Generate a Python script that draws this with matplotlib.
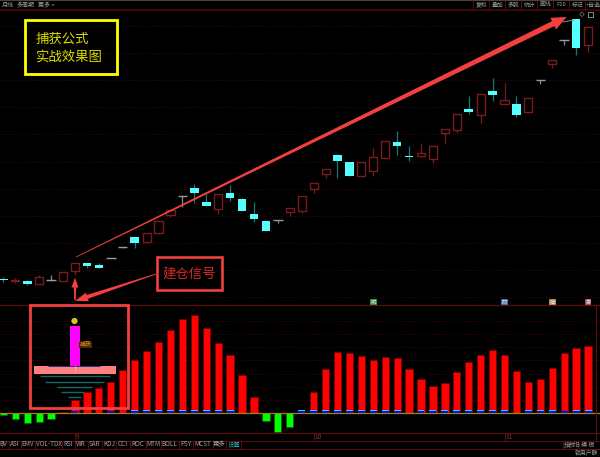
import matplotlib
matplotlib.use('Agg')
import matplotlib.pyplot as plt
from matplotlib.patches import Rectangle, Polygon, Circle
import numpy as np

plt.rcParams['font.family'] = ['Noto Sans CJK SC', 'DejaVu Sans']

# candle values
open_price = [26.5, 24.3, 24, 21.5, 25, 24.3, 34.3, 42.3, 40, 47.5, 58, 68, 63.3, 72.3, 89.7, 109, 116.7, 103.3, 96.3, 111.7,
              106, 91, 83.7, 84.8, 93.3, 94.3, 116.3, 131.3, 150, 143, 128.7, 133.7, 147.3, 163.3, 149.5, 149, 145.7, 172.3, 175, 196,
              189.7, 214, 200.7, 201.3, 193.3, 225.4, 241.3, 265, 285.7, 260.3]
close_price = [25, 25, 21, 28, 25.3, 33, 41.7, 39.3, 37.3, 47, 57.5, 62, 72, 83.7, 95.3, 108.6, 112.3, 98.7, 111, 106.7,
               94, 86, 73.7, 84.3, 96.7, 108.7, 121.7, 135.7, 144, 129.3, 143.3, 147.7, 163.7, 158.7, 148.5, 151.7, 158.7, 175.7, 191, 193.3,
               210.7, 210.3, 204.7, 189.7, 207, 224.8, 244.7, 264.5, 257.3, 277.7]
high_price = [28, 27.5, 25, 30, 30, 33, 41.7, 42.3, 42, 47.5, 58, 68, 72, 83.7, 95.3, 109, 121.3, 111, 111, 120,
              107, 103, 83.7, 84.8, 96.7, 108.7, 121.7, 135.7, 151, 143, 143.3, 157, 163.7, 174, 159, 162, 160, 175.7, 191, 209,
              210.7, 227, 222, 209, 207, 225.4, 244.7, 265, 285.7, 277.7]
low_price = [23, 22, 20, 21.5, 24, 24.3, 30, 37, 37, 47, 57.5, 57, 63.3, 71, 88, 98, 102, 98.7, 91.3, 104.5,
             94, 83, 73.7, 82, 89, 92, 112, 127, 127, 129.3, 128.7, 129, 146, 150, 144, 148, 142, 161.3, 172, 191,
             182, 204, 200.7, 188, 192, 221, 237, 260, 250, 253]

# indicator histogram
macd_vals = [-1.4, -5.7, -10, -8.4, -6, 1, 13.3, 21.6, 25, 31.6, 43.3, 53.3, 62, 71.6, 83.3, 94.3, 98.6, 85, 70, 58.3,
             38.3, 16, -7.7, -18.4, -13.7, 0, 21, 44.3, 61.3, 60.6, 57, 53.3, 56, 55.3, 44.3, 34.3, 27, 30.3, 41, 51.3,
             58.3, 63, 58.3, 42, 31.6, 34, 45, 60, 65.6, 67.3]
blue_flag = [0, 0, 0, 0, 0, 0, 1, 0, 0, 1, 0, 2, 2, 2, 2, 2, 2, 2, 2, 2,
             0, 0, 0, 0, 0, 2, 2, 2, 2, 2, 2, 2, 2, 2, 0, 2, 2, 2, 2, 2,
             2, 2, 2, 0, 2, 2, 2, 1, 2, 2]

tab_labels = ['BV', 'ASI', 'EMV', 'VOL-TDX', 'RSI', 'WR', 'SAR', 'KDJ', 'CCI', 'ROC', 'MTM', 'BOLL', 'PSY', 'MCST', '更多', '设置']
tab_x = [3.5, 14.5, 28, 48.5, 68.5, 81, 95, 109, 123, 138, 153.5, 169.5, 186, 203, 219, 234]
tab_sep = [8.5, 21, 35, 62, 75, 87.5, 102, 116, 130, 146, 160.5, 179, 192.5, 212.5, 226, 241]
tool_labels = ['复权', '叠加', '多股', '统计', '画线', 'F10', '标记', '+自选']
tool_x = [481.3, 497.3, 513.3, 529.3, 545.3, 561.3, 577.3, 593]
badge_labels = ['威', '财', '榜', '券']
badge_idx = [31, 42, 46, 49]
badge_colors = ['#2f8f3a', '#3f6f9f', '#b0855a', '#a84a55']
date_labels = ['9', '10', '11']
date_idx = [6, 26, 42]

DARK_RED = '#7a1c1c'
GRID = '#3c0a0a'
LINE = '#5a0f0f'
CYAN = '#55ffff'
ARROW = '#f23f3f'

fig = plt.figure(figsize=(6, 4.57), dpi=100, facecolor='black')
n = len(open_price)
idx = np.arange(n)
xlim = (-0.285, 50.0)

# candle panel
ax = fig.add_axes([0, 152 / 457, 1, 295 / 457], facecolor='black')
ax.set_xlim(xlim)
ax.set_ylim(0, 295)
ax.axis('off')
for lv in np.arange(8, 295, 27.1):
    ax.axhline(lv, color=GRID, lw=0.7, ls=(0, (1, 2)), zorder=1)
for i in idx:
    o, c, h, l = open_price[i], close_price[i], high_price[i], low_price[i]
    if abs(c - o) <= 1.0 and h - l > 0 and i not in (1, 34):
        col, wick = '#9a9a9a', '#8a8a8a'
    elif c > o:
        col, wick = DARK_RED, DARK_RED
    else:
        col, wick = CYAN, '#127878'
    ax.vlines(i, l, h, color=wick, lw=0.9, zorder=2)
    if col == CYAN:
        ax.bar(i, max(abs(c - o), 0.8), bottom=min(o, c), width=0.72, color=CYAN, lw=0, zorder=3)
    elif col == DARK_RED:
        ax.bar(i, max(abs(c - o), 0.8), bottom=min(o, c), width=0.68, facecolor='black', edgecolor=DARK_RED, lw=1, zorder=3)
    else:
        ax.hlines(max(o, c), i - 0.4, i + 0.4, color=col, lw=1, zorder=3)

# indicator panel
ax2 = fig.add_axes([0, 24 / 457, 1, 128 / 457], facecolor='black')
ax2.set_xlim(xlim)
ax2.set_ylim(-19.7, 108.3)
ax2.axis('off')
for lv in np.arange(13.3, 100, 13.2):
    ax2.axhline(lv, color=GRID, lw=0.7, ls=(0, (1, 2)), zorder=1)
vals = np.array(macd_vals)
ax2.bar(idx, vals, width=0.61, color=['#ff0000' if v > 0 else '#00ff00' for v in vals],
        edgecolor=['#7a0000' if v > 0 else '#006000' for v in vals], lw=0.5, zorder=2)
for i in idx:
    if blue_flag[i] >= 1:
        ax2.bar(i, 2.2, width=0.58, color='#0000ff', lw=0, zorder=3)
    if blue_flag[i] == 2:
        ax2.bar(i, 1.6, bottom=2.2, width=0.58, color='#33ccff', lw=0, zorder=3)
ax2.axhline(0, color='#9a8a10', lw=0.9, zorder=4)

# window chrome and notes, in image pixels
ov = fig.add_axes([0, 0, 1, 1], facecolor='none')
ov.set_xlim(0, 600)
ov.set_ylim(457, 0)
ov.axis('off')
ov.add_patch(Rectangle((0, 0), 600, 1.2, color='#444444', lw=0))
ov.axhline(9.7, color='#4a0808', lw=1.2)
ov.axhline(305.4, color=LINE, lw=0.9)
ov.axhline(433.3, color=LINE, lw=0.9)
ov.axhline(440.5, color=LINE, lw=0.8)
ov.axhline(448.6, color=LINE, lw=0.8)
ov.vlines(595.7, 305, 441, color=LINE, lw=0.8)
ov.text(2, 5, '月线', color='#a0a0a0', fontsize=4.3, va='center')
ov.text(17, 5, '多周期', color='#a0a0a0', fontsize=4.3, va='center')
ov.text(38, 5, '更多 >', color='#a0a0a0', fontsize=4.3, va='center')
for lab, x in zip(tool_labels, tool_x):
    ov.text(x, 5, lab, color='#a0a0a0', fontsize=4.2, ha='center', va='center')
    ov.vlines(x - 8, 0, 9.5, color=LINE, lw=0.7)
ov.add_patch(Polygon([(582, 12), (584.3, 14.3), (582, 16.6), (579.7, 14.3)], fill=False, ec='#666666', lw=0.6))
ov.add_patch(Rectangle((588, 12), 5, 4.6, fill=False, ec='#888888', lw=0.7))
for lab, x in zip(tab_labels, tab_x):
    col = '#2fa8a8' if lab == '设置' else '#a0a0a0'
    ov.text(x, 444.5, lab, color=col, fontsize=4.6, ha='center', va='center')
for x in tab_sep:
    ov.vlines(x, 440.5, 448.6, color=LINE, lw=0.7)
ov.text(563.5, 445, '指标B', color='#a0a0a0', fontsize=4.6, va='center')
ov.text(581, 445, '模 板', color='#a0a0a0', fontsize=4.4, va='center')
ov.text(598.5, 453, '锁用户群', color='#a0a0a0', fontsize=4.2, ha='right', va='center')
ov.vlines([563, 578], 441, 449, color=LINE, lw=0.7)
ov.vlines(1.5, 441, 449, color=LINE, lw=0.7)


def px(i):
    return ov.transData.inverted().transform(ax.transData.transform((i, 0)))[0]


for lab, i, col in zip(badge_labels, badge_idx, badge_colors):
    ov.text(px(i), 302, lab, color='#e8e8e8', fontsize=3.8, ha='center', va='center',
            bbox=dict(boxstyle='square,pad=0.15', fc=col, ec='none'))
for lab, i in zip(date_labels, date_idx):
    ov.vlines(px(i), 433.3, 440.5, color=LINE, lw=0.8)
    ov.text(px(i) + 1, 437, lab, color='#8c2a2a', fontsize=4.8, va='center')


def taper_arrow(x0, y0, x1, y1, w0, w1, head_len, head_w):
    d = np.array([x1 - x0, y1 - y0], dtype=float)
    length = np.hypot(*d)
    d /= length
    nrm = np.array([-d[1], d[0]])
    a = np.array([x0, y0])
    tip = np.array([x1, y1])
    base = tip - d * head_len
    pts = [a + nrm * w0 / 2, base + nrm * w1 / 2, base + nrm * head_w / 2, tip,
           base - nrm * head_w / 2, base - nrm * w1 / 2, a - nrm * w0 / 2]
    ov.add_patch(Polygon(pts, closed=True, color=ARROW, lw=0, zorder=8))


taper_arrow(76, 257, 566.7, 17, 0.8, 5.5, 15, 13)
taper_arrow(156, 274, 75, 301, 0.8, 4, 13, 9)
taper_arrow(75, 300, 75, 277.5, 1.5, 2.5, 10, 7)

# yellow note
ov.add_patch(Rectangle((25.3, 19.6), 91.7, 54.1, fill=False, ec='#ffff00', lw=2, zorder=9))
ov.text(35.5, 38.5, '捕获公式', color='#dcdc00', fontsize=9.6, va='center', zorder=9)
ov.text(35.5, 57, '实战效果图', color='#dcdc00', fontsize=9.6, va='center', zorder=9)

# red note
ov.add_patch(Rectangle((157, 256.5), 65, 33, fill=False, ec=ARROW, lw=1.9, zorder=9))
ov.text(188.8, 273.5, '建仓信号', color='#d82828', fontsize=9.6, ha='center', va='center', zorder=9)

# legend box over the histogram
ov.add_patch(Rectangle((30, 304.5), 98, 103, fill=False, ec=ARROW, lw=2, zorder=9))
ov.add_patch(Rectangle((70, 326), 9.7, 40, color='#ff00ff', lw=0, zorder=7))
ov.add_patch(Rectangle((34, 365.5), 81.5, 8, color='#ff8080', lw=0, zorder=7))
ov.hlines(365.6, 48, 100, color='#2a2a80', lw=0.7, zorder=8)
ov.vlines(74.7, 366, 371, color='#ffb0b0', lw=0.7, zorder=8)
for y, x0, x1 in zip([376.3, 381.7, 386.7, 392.3, 397.3], [40, 45, 57, 61, 68], [110, 104, 92, 84, 81]):
    ov.hlines(y, x0, x1, color='#0f6a6a', lw=1, zorder=7)
ov.add_patch(Circle((74.5, 321), 3.1, color='#e0c020', lw=0, zorder=8))
ov.hlines(344.7, 75, 80, color='#a05a10', lw=0.6, zorder=8)
ov.text(85.5, 344.7, '捕获', color='#e08a20', fontsize=4.2, ha='center', va='center', zorder=8,
        bbox=dict(boxstyle='square,pad=0.1', fc='#4a2a08', ec='none'))
ov.plot([563, 574], [22, 20], color='#888888', lw=0.7)

fig.savefig('out.png', dpi=100, facecolor='black')
